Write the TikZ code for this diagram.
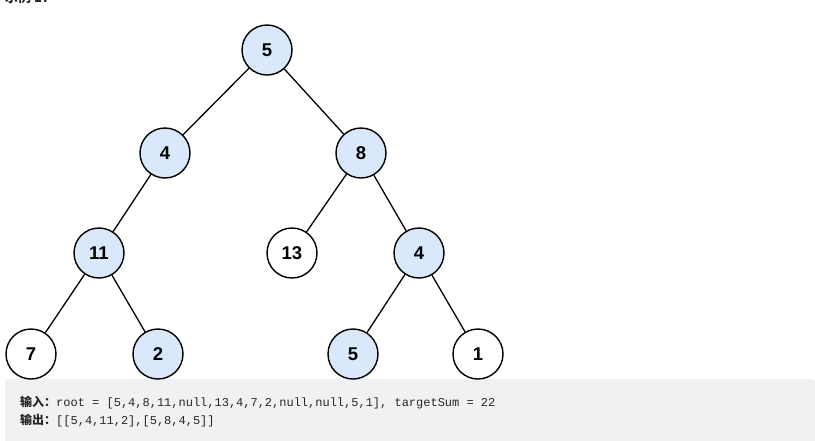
\documentclass[tikz,border=0pt]{standalone}
\usepackage{fontspec}
\setmainfont{Liberation Sans}
\newfontfamily\cjk{Noto Sans CJK SC}
\newfontfamily\codefont{Liberation Mono}
\definecolor{nodefill}{HTML}{DAE8FC}
\definecolor{boxgray}{HTML}{F0F1F3}
\definecolor{txt}{HTML}{262626}
\begin{document}
\begin{tikzpicture}[x=1pt,y=-1pt,
  tn/.style={circle,draw=black,line width=1.4pt,minimum size=50pt,inner sep=0pt,
    font=\fontsize{18.5}{20}\selectfont\bfseries},
  hl/.style={tn,fill=nodefill},
  pl/.style={tn,fill=white},
  edge/.style={line width=1.3pt,draw=black}]
\useasboundingbox (0,0) rectangle (815,440);
\begin{scope}
\clip (0,0) rectangle (815,440);
\node[anchor=base west,inner sep=0pt,font=\cjk\fontsize{13}{15}\selectfont\bfseries,text=txt] (title) at (5,2) {示例 1：};
\end{scope}
\fill[boxgray,rounded corners=3pt] (5,379) rectangle (815,445);

\node[hl] (n5) at (267,50) {5};
\node[hl] (n4) at (165,153) {4};
\node[hl] (n8) at (361,153) {8};
\node[hl] (n11) at (99,253) {11};
\node[pl] (n13) at (292,253) {13};
\node[hl] (n4b) at (419,253) {4};
\node[pl] (n7) at (31,354) {7};
\node[hl] (n2) at (158,354) {2};
\node[hl] (n5b) at (353,354) {5};
\node[pl] (n1) at (478,354) {1};

\draw[edge] (n5) -- (n4);
\draw[edge] (n5) -- (n8);
\draw[edge] (n4) -- (n11);
\draw[edge] (n8) -- (n13);
\draw[edge] (n8) -- (n4b);
\draw[edge] (n11) -- (n7);
\draw[edge] (n11) -- (n2);
\draw[edge] (n4b) -- (n5b);
\draw[edge] (n4b) -- (n1);

\node[anchor=base west,inner sep=0pt,text=txt] (in) at (20,406)
  {{\cjk\fontsize{12}{14}\selectfont\bfseries 输入：}{\codefont\fontsize{12}{14}\selectfont root = [5,4,8,11,null,13,4,7,2,null,null,5,1], targetSum = 22}};
\node[anchor=base west,inner sep=0pt,text=txt] (out) at (20,424)
  {{\cjk\fontsize{12}{14}\selectfont\bfseries 输出：}{\codefont\fontsize{12}{14}\selectfont [[5,4,11,2],[5,8,4,5]]}};
\end{tikzpicture}
\end{document}
